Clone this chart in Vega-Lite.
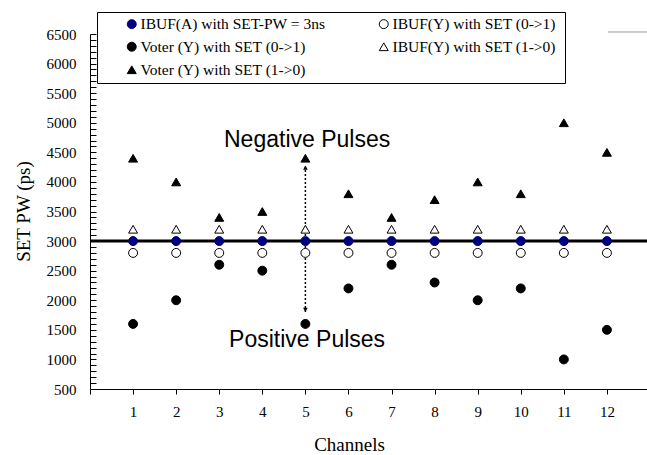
{
  "$schema": "https://vega.github.io/schema/vega-lite/v6.json",
  "width": 560,
  "height": 355,
  "autosize": {"type": "none"},
  "padding": {"left": 90, "top": 34, "right": 0, "bottom": 66},
  "background": "white",
  "config": {"view": {"stroke": null}, "font": "Liberation Serif"},
  "datasets": {
    "points": [
      {"channel": 1, "pw": 3000, "series": "IBUF(A) with SET-PW = 3ns"},
      {"channel": 2, "pw": 3000, "series": "IBUF(A) with SET-PW = 3ns"},
      {"channel": 3, "pw": 3000, "series": "IBUF(A) with SET-PW = 3ns"},
      {"channel": 4, "pw": 3000, "series": "IBUF(A) with SET-PW = 3ns"},
      {"channel": 5, "pw": 3000, "series": "IBUF(A) with SET-PW = 3ns"},
      {"channel": 6, "pw": 3000, "series": "IBUF(A) with SET-PW = 3ns"},
      {"channel": 7, "pw": 3000, "series": "IBUF(A) with SET-PW = 3ns"},
      {"channel": 8, "pw": 3000, "series": "IBUF(A) with SET-PW = 3ns"},
      {"channel": 9, "pw": 3000, "series": "IBUF(A) with SET-PW = 3ns"},
      {"channel": 10, "pw": 3000, "series": "IBUF(A) with SET-PW = 3ns"},
      {"channel": 11, "pw": 3000, "series": "IBUF(A) with SET-PW = 3ns"},
      {"channel": 12, "pw": 3000, "series": "IBUF(A) with SET-PW = 3ns"},
      {"channel": 1, "pw": 2800, "series": "IBUF(Y) with SET (0->1)"},
      {"channel": 2, "pw": 2800, "series": "IBUF(Y) with SET (0->1)"},
      {"channel": 3, "pw": 2800, "series": "IBUF(Y) with SET (0->1)"},
      {"channel": 4, "pw": 2800, "series": "IBUF(Y) with SET (0->1)"},
      {"channel": 5, "pw": 2800, "series": "IBUF(Y) with SET (0->1)"},
      {"channel": 6, "pw": 2800, "series": "IBUF(Y) with SET (0->1)"},
      {"channel": 7, "pw": 2800, "series": "IBUF(Y) with SET (0->1)"},
      {"channel": 8, "pw": 2800, "series": "IBUF(Y) with SET (0->1)"},
      {"channel": 9, "pw": 2800, "series": "IBUF(Y) with SET (0->1)"},
      {"channel": 10, "pw": 2800, "series": "IBUF(Y) with SET (0->1)"},
      {"channel": 11, "pw": 2800, "series": "IBUF(Y) with SET (0->1)"},
      {"channel": 12, "pw": 2800, "series": "IBUF(Y) with SET (0->1)"},
      {"channel": 1, "pw": 1600, "series": "Voter (Y) with SET (0->1)"},
      {"channel": 2, "pw": 2000, "series": "Voter (Y) with SET (0->1)"},
      {"channel": 3, "pw": 2600, "series": "Voter (Y) with SET (0->1)"},
      {"channel": 4, "pw": 2500, "series": "Voter (Y) with SET (0->1)"},
      {"channel": 5, "pw": 1600, "series": "Voter (Y) with SET (0->1)"},
      {"channel": 6, "pw": 2200, "series": "Voter (Y) with SET (0->1)"},
      {"channel": 7, "pw": 2600, "series": "Voter (Y) with SET (0->1)"},
      {"channel": 8, "pw": 2300, "series": "Voter (Y) with SET (0->1)"},
      {"channel": 9, "pw": 2000, "series": "Voter (Y) with SET (0->1)"},
      {"channel": 10, "pw": 2200, "series": "Voter (Y) with SET (0->1)"},
      {"channel": 11, "pw": 1000, "series": "Voter (Y) with SET (0->1)"},
      {"channel": 12, "pw": 1500, "series": "Voter (Y) with SET (0->1)"},
      {"channel": 1, "pw": 3200, "series": "IBUF(Y) with SET (1->0)"},
      {"channel": 2, "pw": 3200, "series": "IBUF(Y) with SET (1->0)"},
      {"channel": 3, "pw": 3200, "series": "IBUF(Y) with SET (1->0)"},
      {"channel": 4, "pw": 3200, "series": "IBUF(Y) with SET (1->0)"},
      {"channel": 5, "pw": 3200, "series": "IBUF(Y) with SET (1->0)"},
      {"channel": 6, "pw": 3200, "series": "IBUF(Y) with SET (1->0)"},
      {"channel": 7, "pw": 3200, "series": "IBUF(Y) with SET (1->0)"},
      {"channel": 8, "pw": 3200, "series": "IBUF(Y) with SET (1->0)"},
      {"channel": 9, "pw": 3200, "series": "IBUF(Y) with SET (1->0)"},
      {"channel": 10, "pw": 3200, "series": "IBUF(Y) with SET (1->0)"},
      {"channel": 11, "pw": 3200, "series": "IBUF(Y) with SET (1->0)"},
      {"channel": 12, "pw": 3200, "series": "IBUF(Y) with SET (1->0)"},
      {"channel": 1, "pw": 4400, "series": "Voter (Y) with SET (1->0)"},
      {"channel": 2, "pw": 4000, "series": "Voter (Y) with SET (1->0)"},
      {"channel": 3, "pw": 3400, "series": "Voter (Y) with SET (1->0)"},
      {"channel": 4, "pw": 3500, "series": "Voter (Y) with SET (1->0)"},
      {"channel": 5, "pw": 4400, "series": "Voter (Y) with SET (1->0)"},
      {"channel": 6, "pw": 3800, "series": "Voter (Y) with SET (1->0)"},
      {"channel": 7, "pw": 3400, "series": "Voter (Y) with SET (1->0)"},
      {"channel": 8, "pw": 3700, "series": "Voter (Y) with SET (1->0)"},
      {"channel": 9, "pw": 4000, "series": "Voter (Y) with SET (1->0)"},
      {"channel": 10, "pw": 3800, "series": "Voter (Y) with SET (1->0)"},
      {"channel": 11, "pw": 5000, "series": "Voter (Y) with SET (1->0)"},
      {"channel": 12, "pw": 4500, "series": "Voter (Y) with SET (1->0)"}
    ],
    "refline": [{"channel": 0, "channel_end": 13, "pw": 3000}],
    "frame": [{"channel": 12.02, "channel_end": 13, "pw": 6534}],
    "arrow": [{"channel": 5, "pw": 1800, "pw_end": 4260}],
    "headUp": [{"channel": 5, "pw": 4240}],
    "headDown": [{"channel": 5, "pw": 1840}],
    "notes": [
      {"channel": 5.04, "pw": 4710, "text": "Negative Pulses"},
      {"channel": 5.04, "pw": 1330, "text": "Positive Pulses"}
    ]
  },
  "encoding": {
    "x": {
      "field": "channel", "type": "quantitative",
      "scale": {"domain": [0, 13], "nice": false, "zero": false},
      "axis": {
        "title": "Channels", "values": [0,1,2,3,4,5,6,7,8,9,10,11,12,13],
        "labelExpr": "datum.value >= 1 && datum.value <= 12 ? datum.label : ''",
        "grid": false, "domainColor": "black", "tickColor": "black", "tickSize": 5,
        "labelFont": "Liberation Serif", "labelFontSize": 15, "labelColor": "black", "labelPadding": 10,
        "titleFont": "Liberation Serif", "titleFontSize": 19, "titleFontWeight": "normal", "titleColor": "black",
        "titleX": 259, "titleY": 55, "titleAlign": "center", "titleBaseline": "middle",
        "labelOverlap": false
      }
    }
  },
  "resolve": {"axis": {"y": "independent"}},
  "layer": [
    {
      "data": {"name": "frame"},
      "mark": {"type": "rule", "color": "#999999", "strokeWidth": 1, "clip": false},
      "encoding": {
        "x2": {"field": "channel_end"},
        "y": {"field": "pw", "type": "quantitative", "scale": {"domain": [500, 6500], "nice": false, "zero": false}, "axis": null}
      }
    },
    {
      "data": {"name": "refline"},
      "mark": {"type": "rule", "color": "black", "strokeWidth": 3, "clip": false},
      "encoding": {
        "x2": {"field": "channel_end"},
        "y": {"field": "pw", "type": "quantitative", "axis": null}
      }
    },
    {
      "data": {"name": "arrow"},
      "mark": {"type": "rule", "color": "black", "strokeWidth": 1.5, "strokeDash": [2, 2]},
      "encoding": {
        "y": {"field": "pw", "type": "quantitative", "axis": null},
        "y2": {"field": "pw_end"}
      }
    },
    {
      "data": {"name": "headUp"},
      "mark": {"type": "point", "filled": true, "color": "black", "size": 22, "opacity": 1, "shape": "triangle-up"},
      "encoding": {"y": {"field": "pw", "type": "quantitative", "axis": null}}
    },
    {
      "data": {"name": "headDown"},
      "mark": {"type": "point", "filled": true, "color": "black", "size": 22, "opacity": 1, "shape": "triangle-down"},
      "encoding": {"y": {"field": "pw", "type": "quantitative", "axis": null}}
    },
    {
      "data": {"name": "notes"},
      "mark": {"type": "text", "font": "Liberation Sans", "fontSize": 23, "color": "black", "align": "center", "baseline": "middle"},
      "encoding": {
        "y": {"field": "pw", "type": "quantitative", "axis": null},
        "text": {"field": "text"}
      }
    },
    {
      "data": {"name": "points"},
      "mark": {"type": "point", "filled": true, "opacity": 1, "strokeWidth": 1},
      "encoding": {
        "y": {
          "field": "pw", "type": "quantitative",
          "axis": {
            "title": "SET PW (ps)",
            "values": [500,600,700,800,900,1000,1100,1200,1300,1400,1500,1600,1700,1800,1900,2000,2100,2200,2300,2400,2500,2600,2700,2800,2900,3000,3100,3200,3300,3400,3500,3600,3700,3800,3900,4000,4100,4200,4300,4400,4500,4600,4700,4800,4900,5000,5100,5200,5300,5400,5500,5600,5700,5800,5900,6000,6100,6200,6300,6400,6500],
            "labelExpr": "datum.value % 500 === 0 ? datum.label : ''",
            "format": "d", "tickSize": -6,
            "grid": false, "domainColor": "black", "tickColor": "black",
            "labelFont": "Liberation Serif", "labelFontSize": 15, "labelColor": "black", "labelPadding": 20,
            "titleFont": "Liberation Serif", "titleFontSize": 19, "titleFontWeight": "normal", "titleColor": "black",
            "titleX": -67, "titleY": 177, "titleAlign": "center", "titleBaseline": "middle", "titleAngle": -90,
            "labelOverlap": false
          }
        },
        "fill": {
          "field": "series", "type": "nominal",
          "scale": {
            "domain": ["IBUF(A) with SET-PW = 3ns", "IBUF(Y) with SET (0->1)", "Voter (Y) with SET (0->1)", "IBUF(Y) with SET (1->0)", "Voter (Y) with SET (1->0)"],
            "range": ["#000080", "white", "black", "white", "black"]
          },
          "legend": {
            "orient": "none", "legendX": 7, "legendY": -22, "columns": 2, "direction": "horizontal", "gridAlign": "all",
            "title": "\u2003", "titleOrient": "right", "titleFontSize": 15, "titlePadding": 5,
            "strokeColor": "black", "fillColor": "white", "padding": 4, "symbolOffset": 23, "labelOffset": 1,
            "labelFont": "Liberation Serif", "labelFontSize": 15.5, "labelColor": "black", "labelLimit": 400,
            "rowPadding": 6, "columnPadding": 27, "symbolStrokeWidth": 1
          }
        },
        "stroke": {
          "field": "series", "type": "nominal",
          "scale": {
            "domain": ["IBUF(A) with SET-PW = 3ns", "IBUF(Y) with SET (0->1)", "Voter (Y) with SET (0->1)", "IBUF(Y) with SET (1->0)", "Voter (Y) with SET (1->0)"],
            "range": ["#000080", "black", "black", "black", "black"]
          }
        },
        "shape": {
          "field": "series", "type": "nominal",
          "scale": {
            "domain": ["IBUF(A) with SET-PW = 3ns", "IBUF(Y) with SET (0->1)", "Voter (Y) with SET (0->1)", "IBUF(Y) with SET (1->0)", "Voter (Y) with SET (1->0)"],
            "range": ["circle", "circle", "circle", "triangle-up", "triangle-up"]
          }
        },
        "size": {
          "field": "series", "type": "nominal",
          "scale": {
            "domain": ["IBUF(A) with SET-PW = 3ns", "IBUF(Y) with SET (0->1)", "Voter (Y) with SET (0->1)", "IBUF(Y) with SET (1->0)", "Voter (Y) with SET (1->0)"],
            "range": [80, 80, 80, 100, 100]
          }
        }
      }
    }
  ]
}
